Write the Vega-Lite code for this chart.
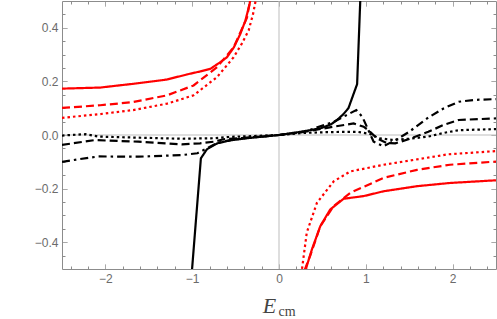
{
  "$schema": "https://vega.github.io/schema/vega-lite/v6.json",
  "width": 434,
  "height": 268,
  "autosize": {"type": "none"},
  "padding": {"left": 62, "top": 1, "right": 1, "bottom": 50},
  "config": {
    "view": {"stroke": null},
    "axis": {
      "grid": false,
      "domainColor": "#8c8c8c",
      "tickColor": "#8c8c8c",
      "labelColor": "#6b6b6b",
      "labelFont": "Liberation Sans",
      "labelFontSize": 12,
      "labelOverlap": false,
      "tickSize": -5
    }
  },
  "datasets": {
    "curves": [
      {"s": "solid", "b": "M", "x": -1.015, "y": -0.555},
      {"s": "solid", "b": "M", "x": -0.9, "y": -0.087},
      {"s": "solid", "b": "M", "x": -0.83, "y": -0.053},
      {"s": "solid", "b": "M", "x": -0.71, "y": -0.031},
      {"s": "solid", "b": "M", "x": -0.56, "y": -0.02},
      {"s": "solid", "b": "M", "x": -0.37, "y": -0.012},
      {"s": "solid", "b": "M", "x": 0, "y": 0},
      {"s": "solid", "b": "M", "x": 0.25, "y": 0.012},
      {"s": "solid", "b": "M", "x": 0.48, "y": 0.025},
      {"s": "solid", "b": "M", "x": 0.6, "y": 0.04},
      {"s": "solid", "b": "M", "x": 0.665, "y": 0.055},
      {"s": "solid", "b": "M", "x": 0.74, "y": 0.077},
      {"s": "solid", "b": "M", "x": 0.8, "y": 0.1},
      {"s": "solid", "b": "M", "x": 0.85, "y": 0.145},
      {"s": "solid", "b": "M", "x": 0.9, "y": 0.19},
      {"s": "solid", "b": "M", "x": 0.95, "y": 0.62},

      {"s": "dashdot", "b": "M", "x": -2.5, "y": -0.1},
      {"s": "dashdot", "b": "M", "x": -2.3, "y": -0.09},
      {"s": "dashdot", "b": "M", "x": -2.08, "y": -0.08},
      {"s": "dashdot", "b": "M", "x": -1.62, "y": -0.081},
      {"s": "dashdot", "b": "M", "x": -1.12, "y": -0.075},
      {"s": "dashdot", "b": "M", "x": -0.94, "y": -0.068},
      {"s": "dashdot", "b": "M", "x": -0.83, "y": -0.05},
      {"s": "dashdot", "b": "M", "x": -0.71, "y": -0.029},
      {"s": "dashdot", "b": "M", "x": -0.56, "y": -0.019},
      {"s": "dashdot", "b": "M", "x": -0.37, "y": -0.011},
      {"s": "dashdot", "b": "M", "x": 0, "y": 0},
      {"s": "dashdot", "b": "M", "x": 0.3, "y": 0.013},
      {"s": "dashdot", "b": "M", "x": 0.63, "y": 0.049},
      {"s": "dashdot", "b": "M", "x": 0.89, "y": 0.093},
      {"s": "dashdot", "b": "M", "x": 0.96, "y": 0.068},
      {"s": "dashdot", "b": "M", "x": 1.03, "y": 0.018},
      {"s": "dashdot", "b": "M", "x": 1.09, "y": -0.025},
      {"s": "dashdot", "b": "M", "x": 1.2, "y": -0.042},
      {"s": "dashdot", "b": "M", "x": 1.35, "y": -0.018},
      {"s": "dashdot", "b": "M", "x": 1.5, "y": 0.012},
      {"s": "dashdot", "b": "M", "x": 1.72, "y": 0.065},
      {"s": "dashdot", "b": "M", "x": 1.9, "y": 0.1},
      {"s": "dashdot", "b": "M", "x": 2.07, "y": 0.124},
      {"s": "dashdot", "b": "M", "x": 2.25, "y": 0.131},
      {"s": "dashdot", "b": "M", "x": 2.5, "y": 0.134},

      {"s": "dash", "b": "M", "x": -2.5, "y": -0.037},
      {"s": "dash", "b": "M", "x": -2.12, "y": -0.019},
      {"s": "dash", "b": "M", "x": -1.62, "y": -0.025},
      {"s": "dash", "b": "M", "x": -1.12, "y": -0.035},
      {"s": "dash", "b": "M", "x": -0.91, "y": -0.031},
      {"s": "dash", "b": "M", "x": -0.75, "y": -0.025},
      {"s": "dash", "b": "M", "x": -0.64, "y": -0.016},
      {"s": "dash", "b": "M", "x": -0.4, "y": -0.011},
      {"s": "dash", "b": "M", "x": 0, "y": 0},
      {"s": "dash", "b": "M", "x": 0.3, "y": 0.012},
      {"s": "dash", "b": "M", "x": 0.63, "y": 0.031},
      {"s": "dash", "b": "M", "x": 0.86, "y": 0.043},
      {"s": "dash", "b": "M", "x": 0.975, "y": 0.031},
      {"s": "dash", "b": "M", "x": 1.03, "y": 0.018},
      {"s": "dash", "b": "M", "x": 1.13, "y": -0.013},
      {"s": "dash", "b": "M", "x": 1.24, "y": -0.03},
      {"s": "dash", "b": "M", "x": 1.34, "y": -0.031},
      {"s": "dash", "b": "M", "x": 1.5, "y": -0.015},
      {"s": "dash", "b": "M", "x": 1.72, "y": 0.012},
      {"s": "dash", "b": "M", "x": 1.9, "y": 0.038},
      {"s": "dash", "b": "M", "x": 2.07, "y": 0.056},
      {"s": "dash", "b": "M", "x": 2.5, "y": 0.062},

      {"s": "dot", "b": "M", "x": -2.5, "y": -0.002},
      {"s": "dot", "b": "M", "x": -2.23, "y": 0.003},
      {"s": "dot", "b": "M", "x": -2.08, "y": -0.006},
      {"s": "dot", "b": "M", "x": -1.62, "y": -0.01},
      {"s": "dot", "b": "M", "x": -1.12, "y": -0.014},
      {"s": "dot", "b": "M", "x": -0.75, "y": -0.012},
      {"s": "dot", "b": "M", "x": -0.56, "y": -0.007},
      {"s": "dot", "b": "M", "x": -0.3, "y": -0.004},
      {"s": "dot", "b": "M", "x": 0, "y": 0},
      {"s": "dot", "b": "M", "x": 0.3, "y": 0.008},
      {"s": "dot", "b": "M", "x": 0.6, "y": 0.011},
      {"s": "dot", "b": "M", "x": 0.9, "y": 0.012},
      {"s": "dot", "b": "M", "x": 1.05, "y": 0.004},
      {"s": "dot", "b": "M", "x": 1.15, "y": -0.012},
      {"s": "dot", "b": "M", "x": 1.3, "y": -0.018},
      {"s": "dot", "b": "M", "x": 1.5, "y": -0.014},
      {"s": "dot", "b": "M", "x": 1.72, "y": -0.006},
      {"s": "dot", "b": "M", "x": 1.9, "y": 0.008},
      {"s": "dot", "b": "M", "x": 2.07, "y": 0.018},
      {"s": "dot", "b": "M", "x": 2.5, "y": 0.022},

      {"s": "rsolid", "b": "L", "x": -2.5, "y": 0.173},
      {"s": "rsolid", "b": "L", "x": -2.06, "y": 0.177},
      {"s": "rsolid", "b": "L", "x": -1.68, "y": 0.191},
      {"s": "rsolid", "b": "L", "x": -1.29, "y": 0.207},
      {"s": "rsolid", "b": "L", "x": -1.06, "y": 0.226},
      {"s": "rsolid", "b": "L", "x": -0.91, "y": 0.237},
      {"s": "rsolid", "b": "L", "x": -0.79, "y": 0.247},
      {"s": "rsolid", "b": "L", "x": -0.68, "y": 0.271},
      {"s": "rsolid", "b": "L", "x": -0.6, "y": 0.29},
      {"s": "rsolid", "b": "L", "x": -0.52, "y": 0.327},
      {"s": "rsolid", "b": "L", "x": -0.446, "y": 0.377},
      {"s": "rsolid", "b": "L", "x": -0.388, "y": 0.426},
      {"s": "rsolid", "b": "L", "x": -0.339, "y": 0.488},
      {"s": "rsolid", "b": "L", "x": -0.32, "y": 0.53},
      {"s": "rsolid", "b": "R", "x": 0.3, "y": -0.54},
      {"s": "rsolid", "b": "R", "x": 0.315, "y": -0.494},
      {"s": "rsolid", "b": "R", "x": 0.38, "y": -0.426},
      {"s": "rsolid", "b": "R", "x": 0.476, "y": -0.34},
      {"s": "rsolid", "b": "R", "x": 0.59, "y": -0.278},
      {"s": "rsolid", "b": "R", "x": 0.744, "y": -0.238},
      {"s": "rsolid", "b": "R", "x": 0.975, "y": -0.228},
      {"s": "rsolid", "b": "R", "x": 1.205, "y": -0.21},
      {"s": "rsolid", "b": "R", "x": 1.59, "y": -0.191},
      {"s": "rsolid", "b": "R", "x": 1.97, "y": -0.179},
      {"s": "rsolid", "b": "R", "x": 2.5, "y": -0.169},

      {"s": "rdash", "b": "L", "x": -2.5, "y": 0.101},
      {"s": "rdash", "b": "L", "x": -2.06, "y": 0.111},
      {"s": "rdash", "b": "L", "x": -1.68, "y": 0.123},
      {"s": "rdash", "b": "L", "x": -1.29, "y": 0.148},
      {"s": "rdash", "b": "L", "x": -0.984, "y": 0.185},
      {"s": "rdash", "b": "L", "x": -0.714, "y": 0.253},
      {"s": "rdash", "b": "L", "x": -0.523, "y": 0.327},
      {"s": "rdash", "b": "L", "x": -0.369, "y": 0.438},
      {"s": "rdash", "b": "L", "x": -0.34, "y": 0.49},
      {"s": "rdash", "b": "L", "x": -0.31, "y": 0.56},
      {"s": "rdash", "b": "R", "x": 0.28, "y": -0.55},
      {"s": "rdash", "b": "R", "x": 0.3, "y": -0.5},
      {"s": "rdash", "b": "R", "x": 0.36, "y": -0.45},
      {"s": "rdash", "b": "R", "x": 0.476, "y": -0.34},
      {"s": "rdash", "b": "R", "x": 0.63, "y": -0.265},
      {"s": "rdash", "b": "R", "x": 0.82, "y": -0.216},
      {"s": "rdash", "b": "R", "x": 1.205, "y": -0.16},
      {"s": "rdash", "b": "R", "x": 1.59, "y": -0.13},
      {"s": "rdash", "b": "R", "x": 1.97, "y": -0.111},
      {"s": "rdash", "b": "R", "x": 2.5, "y": -0.099},

      {"s": "rdot", "b": "L", "x": -2.5, "y": 0.064},
      {"s": "rdot", "b": "L", "x": -2.06, "y": 0.078},
      {"s": "rdot", "b": "L", "x": -1.68, "y": 0.093},
      {"s": "rdot", "b": "L", "x": -1.29, "y": 0.117},
      {"s": "rdot", "b": "L", "x": -0.984, "y": 0.148},
      {"s": "rdot", "b": "L", "x": -0.714, "y": 0.216},
      {"s": "rdot", "b": "L", "x": -0.523, "y": 0.29},
      {"s": "rdot", "b": "L", "x": -0.43, "y": 0.34},
      {"s": "rdot", "b": "L", "x": -0.35, "y": 0.39},
      {"s": "rdot", "b": "L", "x": -0.3, "y": 0.45},
      {"s": "rdot", "b": "L", "x": -0.27, "y": 0.5},
      {"s": "rdot", "b": "L", "x": -0.25, "y": 0.54},
      {"s": "rdot", "b": "R", "x": 0.25, "y": -0.54},
      {"s": "rdot", "b": "R", "x": 0.265, "y": -0.5},
      {"s": "rdot", "b": "R", "x": 0.32, "y": -0.364},
      {"s": "rdot", "b": "R", "x": 0.437, "y": -0.253},
      {"s": "rdot", "b": "R", "x": 0.63, "y": -0.173},
      {"s": "rdot", "b": "R", "x": 0.82, "y": -0.136},
      {"s": "rdot", "b": "R", "x": 1.205, "y": -0.111},
      {"s": "rdot", "b": "R", "x": 1.55, "y": -0.093},
      {"s": "rdot", "b": "R", "x": 1.95, "y": -0.072},
      {"s": "rdot", "b": "R", "x": 2.5, "y": -0.06}
    ]
  },
  "layer": [
    {
      "data": {"values": [{"z": 0}]},
      "mark": {"type": "rule", "color": "#bdbdbd", "strokeWidth": 1},
      "encoding": {
        "x": {
          "field": "z", "type": "quantitative",
          "scale": {"domain": [-2.5, 2.5], "nice": false, "zero": false},
          "axis": {
            "orient": "top",
            "values": [-2.4,-2.2,-2,-1.8,-1.6,-1.4,-1.2,-1,-0.8,-0.6,-0.4,-0.2,0,0.2,0.4,0.6,0.8,1,1.2,1.4,1.6,1.8,2,2.2,2.4],
            "labels": false,
            "tickDash": {"condition": {"test": "abs(datum.value - round(datum.value)) < 0.01", "value": [1, 0]}, "value": [3, 10]},
            "title": "cm",
            "titleFont": "Liberation Serif",
            "titleFontSize": 14,
            "titleFontWeight": "normal",
            "titleColor": "#444444",
            "titleAlign": "left",
            "titleBaseline": "alphabetic",
            "titleAngle": 0,
            "titleX": 216,
            "titleY": 314
          }
        }
      }
    },
    {
      "data": {"values": [{"z": 0}]},
      "mark": {"type": "rule", "color": "#bdbdbd", "strokeWidth": 1},
      "encoding": {
        "y": {
          "field": "z", "type": "quantitative",
          "scale": {"domain": [-0.5, 0.5], "nice": false, "zero": false},
          "axis": {
            "orient": "right",
            "values": [-0.45,-0.4,-0.35,-0.3,-0.25,-0.2,-0.15,-0.1,-0.05,0,0.05,0.1,0.15,0.2,0.25,0.3,0.35,0.4,0.45],
            "labels": false,
            "tickDash": {"condition": {"test": "abs(datum.value*5 - round(datum.value*5)) < 0.01", "value": [1, 0]}, "value": [3, 10]},
            "title": null
          }
        }
      }
    },
    {
      "data": {"name": "curves"},
      "mark": {"type": "line", "clip": true, "strokeWidth": 2.2},
      "encoding": {
        "x": {
          "field": "x", "type": "quantitative",
          "scale": {"domain": [-2.5, 2.5], "nice": false, "zero": false},
          "axis": {
            "orient": "bottom",
            "values": [-2.4,-2.2,-2,-1.8,-1.6,-1.4,-1.2,-1,-0.8,-0.6,-0.4,-0.2,0,0.2,0.4,0.6,0.8,1,1.2,1.4,1.6,1.8,2,2.2,2.4],
            "labelExpr": "abs(datum.value - round(datum.value)) < 0.01 ? replace(format(round(datum.value), 'd'), '-', '\u2212') : ''",
            "tickDash": {"condition": {"test": "abs(datum.value - round(datum.value)) < 0.01", "value": [1, 0]}, "value": [3, 10]},
            "labelPadding": 9,
            "title": "E",
            "titleFont": "Liberation Serif",
            "titleFontSize": 22,
            "titleFontStyle": "italic",
            "titleFontWeight": "normal",
            "titleColor": "#444444",
            "titleAlign": "center",
            "titleBaseline": "alphabetic",
            "titleX": 207,
            "titleY": 43
          }
        },
        "y": {
          "field": "y", "type": "quantitative",
          "scale": {"domain": [-0.5, 0.5], "nice": false, "zero": false},
          "axis": {
            "orient": "left",
            "values": [-0.45,-0.4,-0.35,-0.3,-0.25,-0.2,-0.15,-0.1,-0.05,0,0.05,0.1,0.15,0.2,0.25,0.3,0.35,0.4,0.45],
            "format": ".1f",
            "labelExpr": "abs(datum.value*5 - round(datum.value*5)) < 0.01 ? datum.label : ''",
            "tickDash": {"condition": {"test": "abs(datum.value*5 - round(datum.value*5)) < 0.01", "value": [1, 0]}, "value": [3, 10]},
            "labelPadding": 9,
            "title": null
          }
        },
        "color": {
          "field": "s", "type": "nominal", "legend": null,
          "scale": {
            "domain": ["solid", "dash", "dot", "dashdot", "rsolid", "rdash", "rdot"],
            "range": ["#000000", "#000000", "#000000", "#000000", "#ff0000", "#ff0000", "#ff0000"]
          }
        },
        "strokeDash": {
          "field": "s", "type": "nominal", "legend": null,
          "scale": {
            "domain": ["solid", "dash", "dot", "dashdot", "rsolid", "rdash", "rdot"],
            "range": [[1, 0], [8, 4], [2.5, 3], [8, 4, 2.5, 4], [1, 0], [8, 4], [2.5, 3]]
          }
        },
        "detail": {"field": "b", "type": "nominal"}
      }
    }
  ],
  "resolve": {"axis": {"x": "independent", "y": "independent"}}
}
